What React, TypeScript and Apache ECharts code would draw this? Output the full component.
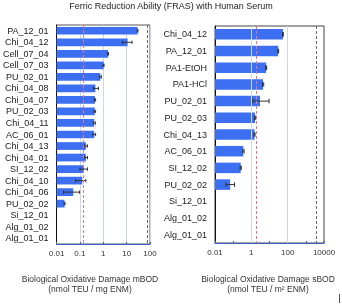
import React, { useEffect, useRef } from 'react';
import * as echarts from 'echarts';

const titleText = 'Ferric Reduction Ability (FRAS) with Human Serum';

const leftCategories = ['PA_12_01', 'Chi_04_12', 'Cell_07_04', 'Cell_07_03', 'PU_02_01', 'Chi_04_08', 'Chi_04_07', 'PU_02_03', 'Chi_04_11', 'AC_06_01', 'Chi_04_13', 'Chi_04_01', 'SI_12_02', 'Chi_04_10', 'Chi_04_06', 'PU_02_02', 'Si_12_01', 'Alg_01_02', 'Alg_01_01'];
const leftValues = [29.5, 11, 1.6, 1.03, 0.75, 0.46, 0.44, 0.43, 0.41, 0.41, 0.18, 0.18, 0.15, 0.126, 0.052, 0.022, null, null, null];
const leftErrLow = [28.5, 6.5, 1.55, 0.98, 0.68, 0.38, 0.41, 0.4, 0.37, 0.36, 0.16, 0.16, 0.1, 0.065, 0.02, 0.021, null, null, null];
const leftErrHigh = [30.5, 17, 1.68, 1.08, 0.83, 0.62, 0.47, 0.47, 0.46, 0.47, 0.21, 0.21, 0.21, 0.18, 0.097, 0.023, null, null, null];
const leftRefLines = [0.145, 75];
const leftTicks = [0.01, 0.1, 1, 10, 100];

const rightCategories = ['Chi_04_12', 'PA_12_01', 'PA1-EtOH', 'PA1-HCl', 'PU_02_01', 'PU_02_03', 'Chi_04_13', 'AC_06_01', 'SI_12_02', 'PU_02_02', 'Si_12_01', 'Alg_01_02', 'Alg_01_01'];
const rightValues = [55, 30, 6.5, 4.4, 3.0, 1.6, 1.5, 0.36, 0.26, 0.068, null, null, null];
const rightErrLow = [52, 28.5, 6.1, 4.1, 1.2, 1.5, 1.4, 0.33, 0.24, 0.04, null, null, null];
const rightErrHigh = [58, 32, 7, 4.8, 9.5, 1.75, 1.6, 0.4, 0.28, 0.118, null, null, null];
const rightRefLines = [1.9, 3900];
const rightTicks = [0.01, 1, 100, 10000];

const leftAxisName = ['Biological Oxidative Damage mBOD', '(nmol TEU / mg ENM)'];
const rightAxisName = ['Biological Oxidative Damage sBOD', '(nmol TEU / m² ENM)'];

const FONT = 'Liberation Sans, Arial, sans-serif';
const BAR = '#3d6ff2';
const ERR = '#333333';
const GRIDC = '#cbd8e6';
const RED = '#ec7386';
const DARK = '#666666';

function buildData(vals: (number | null)[], lo: (number | null)[], hi: (number | null)[]) {
  const out: number[][] = [];
  vals.forEach((v, i) => {
    if (v != null) out.push([i, v, lo[i] as number, hi[i] as number]);
  });
  return out;
}

function makeRender(minVal: number, frac: number) {
  return (params: any, api: any) => {
    const cat = api.value(0);
    const v = api.value(1);
    const lo = api.value(2);
    const hi = api.value(3);
    const band = api.size([1, 1])[1];
    const h = band * frac;
    const p0 = api.coord([minVal, cat]);
    const p1 = api.coord([v, cat]);
    const pl = api.coord([lo, cat]);
    const ph = api.coord([hi, cat]);
    const cap = Math.max(1.5, h * 0.22);
    const y = p1[1];
    const es = { stroke: ERR, lineWidth: 1 };
    return {
      type: 'group',
      children: [
        { type: 'rect', shape: { x: p0[0], y: y - h / 2, width: p1[0] - p0[0], height: h }, style: { fill: BAR } },
        { type: 'line', shape: { x1: pl[0], y1: y, x2: ph[0], y2: y }, style: es },
        { type: 'line', shape: { x1: pl[0], y1: y - cap, x2: pl[0], y2: y + cap }, style: es },
        { type: 'line', shape: { x1: ph[0], y1: y - cap, x2: ph[0], y2: y + cap }, style: es },
      ],
    };
  };
}

function fmtTick(allowed: number[]) {
  return (v: number) => {
    const n = Number(v.toPrecision(6));
    return allowed.some((a) => Math.abs(Math.log10(a) - Math.log10(n)) < 1e-6) ? String(n) : '';
  };
}

export default function App() {
  const ref = useRef<HTMLDivElement>(null);
  useEffect(() => {
    if (!ref.current) return;
    const chart = echarts.init(ref.current, undefined, { renderer: 'svg' });
    const xAxisCommon = {
      type: 'log',
      logBase: 10,
      axisLine: { show: true, onZero: false, lineStyle: { color: '#3b62c4', width: 1 } },
      axisTick: { show: true, inside: true, length: 2, lineStyle: { color: '#3b62c4' } },
      axisLabel: { fontSize: 8, color: '#333', fontFamily: FONT, margin: 5 },
    };
    const yAxisCommon = {
      type: 'category',
      inverse: true,
      axisLine: { show: true, lineStyle: { color: '#111', width: 1 } },
      axisTick: { show: false },
      axisLabel: { fontSize: 9, color: '#222', fontFamily: FONT, margin: 8, interval: 0 },
      splitLine: { show: false },
    };
    const refLineStyle = (c: string) => ({ color: c, type: [3, 2], width: 1 });
    chart.setOption({
      animation: false,
      title: {
        text: titleText,
        left: 'center',
        top: 1,
        padding: 0,
        textStyle: { fontSize: 9, fontWeight: 'normal', color: '#222', fontFamily: FONT },
      },
      grid: [
        { left: 55, top: 25, width: 95, height: 219, show: true, borderColor: '#555', borderWidth: 1, containLabel: false },
        { left: 215, top: 26, width: 109, height: 217, show: true, borderColor: '#444', borderWidth: 1, containLabel: false },
      ],
      xAxis: [
        {
          ...xAxisCommon,
          gridIndex: 0,
          min: 0.01,
          max: 100,
          splitLine: { show: true, lineStyle: { color: GRIDC, width: 1 } },
          axisLabel: { ...xAxisCommon.axisLabel, formatter: fmtTick(leftTicks) },
        },
        {
          ...xAxisCommon,
          gridIndex: 1,
          min: 0.01,
          max: 10000,
          splitLine: { show: false },
          axisLabel: { ...xAxisCommon.axisLabel, formatter: fmtTick(rightTicks) },
        },
      ],
      yAxis: [
        { ...yAxisCommon, gridIndex: 0, data: leftCategories },
        { ...yAxisCommon, gridIndex: 1, data: rightCategories },
      ],
      series: [
        {
          type: 'line',
          xAxisIndex: 1,
          yAxisIndex: 1,
          data: [],
          silent: true,
          markLine: {
            silent: true,
            symbol: ['none', 'none'],
            label: { show: false },
            data: [
              { xAxis: 1, lineStyle: { color: GRIDC, type: 'solid', width: 1 } },
              { xAxis: 100, lineStyle: { color: GRIDC, type: 'solid', width: 1 } },
            ],
          },
        },
        {
          type: 'custom',
          xAxisIndex: 0,
          yAxisIndex: 0,
          renderItem: makeRender(0.01, 0.67),
          encode: { x: [1, 2, 3], y: 0 },
          data: buildData(leftValues, leftErrLow, leftErrHigh),
          z: 3,
        },
        {
          type: 'custom',
          xAxisIndex: 1,
          yAxisIndex: 1,
          renderItem: makeRender(0.01, 0.63),
          encode: { x: [1, 2, 3], y: 0 },
          data: buildData(rightValues, rightErrLow, rightErrHigh),
          z: 3,
        },
        {
          type: 'line',
          xAxisIndex: 0,
          yAxisIndex: 0,
          data: [],
          silent: true,
          z: 5,
          markLine: {
            silent: true,
            symbol: ['none', 'none'],
            label: { show: false },
            data: [
              { xAxis: leftRefLines[0], lineStyle: refLineStyle(RED) },
              { xAxis: leftRefLines[1], lineStyle: refLineStyle(DARK) },
            ],
          },
        },
        {
          type: 'line',
          xAxisIndex: 1,
          yAxisIndex: 1,
          data: [],
          silent: true,
          z: 5,
          markLine: {
            silent: true,
            symbol: ['none', 'none'],
            label: { show: false },
            data: [
              { xAxis: rightRefLines[0], lineStyle: refLineStyle(RED) },
              { xAxis: rightRefLines[1], lineStyle: refLineStyle(DARK) },
            ],
          },
        },
      ],
      graphic: [
        { type: 'text', x: 90, y: 279, style: { text: leftAxisName[0], fill: '#333', font: `8.5px ${FONT}`, textAlign: 'center', textVerticalAlign: 'middle' } },
        { type: 'text', x: 90, y: 289, style: { text: leftAxisName[1], fill: '#333', font: `8.5px ${FONT}`, textAlign: 'center', textVerticalAlign: 'middle' } },
        { type: 'text', x: 268, y: 279, style: { text: rightAxisName[0], fill: '#333', font: `8.5px ${FONT}`, textAlign: 'center', textVerticalAlign: 'middle' } },
        { type: 'text', x: 268, y: 289, style: { text: rightAxisName[1], fill: '#333', font: `8.5px ${FONT}`, textAlign: 'center', textVerticalAlign: 'middle' } },
        { type: 'line', shape: { x1: 339.5, y1: 294, x2: 339.5, y2: 303 }, style: { stroke: '#555', lineWidth: 1 } },
      ],
    });
    return () => chart.dispose();
  }, []);
  return <div ref={ref} style={{ position: 'fixed', left: 0, top: 0, width: 342, height: 304 }} />;
}
